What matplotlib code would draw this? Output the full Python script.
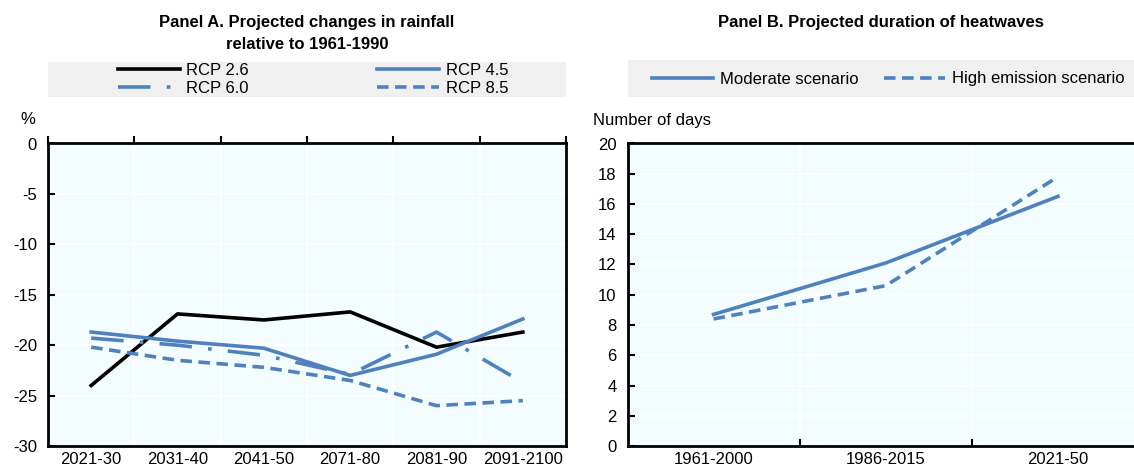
import matplotlib
matplotlib.use("Agg")
import matplotlib.pyplot as plt
from matplotlib.patches import Rectangle

plt.rcParams["font.family"] = ["Liberation Sans", "DejaVu Sans"]
plt.rcParams["axes.unicode_minus"] = False

# Panel A data
periods = ["2021-30", "2031-40", "2041-50", "2071-80", "2081-90", "2091-2100"]
rcp26 = [-24.0, -16.9, -17.5, -16.7, -20.2, -18.7]
rcp45 = [-18.7, -19.6, -20.3, -23.0, -20.9, -17.4]
rcp60 = [-19.3, -20.0, -21.0, -22.9, -18.7, -23.7]
rcp85 = [-20.2, -21.5, -22.2, -23.5, -26.0, -25.5]

# Panel B data
windows = ["1961-2000", "1986-2015", "2021-50"]
moderate = [8.7, 12.1, 16.5]
high = [8.4, 10.6, 17.8]

blue = "#4F81BD"
bg = "#F3FDFF"
legbg = "#F0F0F0"
fs = 12

fig = plt.figure(figsize=(11.34, 4.69), dpi=100)
W, H = 1134.0, 469.0

def box(l, r, t, b):
    return [l / W, 1 - b / H, (r - l) / W, (b - t) / H]

axA = fig.add_axes(box(48, 566, 143.5, 446))
axB = fig.add_axes(box(627.5, 1144, 143.5, 446))

for ax in (axA, axB):
    ax.set_facecolor(bg)
    for s in ax.spines.values():
        s.set_linewidth(2)
        s.set_color("black")
    ax.set_axisbelow(True)
    ax.grid(True, which="major", axis="y", color="white", lw=1.2)
    ax.grid(True, which="minor", axis="x", color="white", lw=1.2)
    ax.tick_params(axis="y", direction="in", length=5, width=1.5, labelsize=fs, pad=8)

# ---- Panel A
x = range(len(periods))
axA.plot(x, rcp26, color="black", lw=2.6, label="RCP 2.6")
axA.plot(x, rcp45, color=blue, lw=2.6, label="RCP 4.5")
axA.plot(x, rcp60, color=blue, lw=2.6, dashes=(9, 4.5, 1, 4.5), label="RCP 6.0")
axA.plot(x, rcp85, color=blue, lw=2.6, dashes=(3.2, 1.8), label="RCP 8.5")
axA.set_xlim(-0.5, len(periods) - 0.5)
axA.set_ylim(-30, 0)
axA.set_yticks(range(-30, 1, 5))
axA.set_xticks(list(x))
axA.set_xticklabels(periods, fontsize=fs)
axA.set_xticks([i - 0.5 for i in range(len(periods) + 1)], minor=True)
axA.tick_params(axis="x", which="major", length=0, pad=4)
axA.tick_params(axis="x", which="minor", top=True, bottom=False, direction="out",
                length=5, width=1.5)
fig.text(28 / W, 1 - 120 / H, "%", fontsize=fs, ha="center", va="center")
fig.text(307 / W, 1 - 33.5 / H, "Panel A. Projected changes in rainfall\nrelative to 1961-1990",
         fontsize=fs, fontweight="bold", ha="center", va="center", linespacing=1.6)

fig.patches.append(Rectangle((48 / W, 1 - 97 / H), 518 / W, 35 / H,
                             transform=fig.transFigure, facecolor=legbg, edgecolor="none"))
hA, lA = axA.get_legend_handles_labels()
order = [0, 2, 1, 3]
fig.legend([hA[i] for i in order], [lA[i] for i in order], ncol=2, frameon=False,
           loc="center", bbox_to_anchor=(313 / W, 1 - 79.5 / H), fontsize=fs,
           handlelength=3.7, handletextpad=0.4, columnspacing=7.7,
           labelspacing=0.15, borderpad=0)

# ---- Panel B
xb = range(len(windows))
axB.plot(xb, moderate, color=blue, lw=2.6, label="Moderate scenario")
axB.plot(xb, high, color=blue, lw=2.6, dashes=(3.2, 1.8), label="High emission scenario")
axB.set_xlim(-0.5, len(windows) - 0.5)
axB.set_ylim(0, 20)
axB.set_yticks(range(0, 21, 2))
axB.set_xticks(list(xb))
axB.set_xticklabels(windows, fontsize=fs)
axB.set_xticks([i + 0.5 for i in range(len(windows))], minor=True)
axB.tick_params(axis="x", which="major", length=0, pad=4)
axB.tick_params(axis="x", which="minor", direction="in", length=5, width=1.5)
axB.spines["right"].set_visible(False)
fig.text(593 / W, 1 - 120 / H, "Number of days", fontsize=fs, ha="left", va="center")
fig.text(881 / W, 1 - 23 / H, "Panel B. Projected duration of heatwaves",
         fontsize=fs, fontweight="bold", ha="center", va="center")

fig.patches.append(Rectangle((627.5 / W, 1 - 97 / H), (1134 - 627.5) / W, 37 / H,
                             transform=fig.transFigure, facecolor=legbg, edgecolor="none"))
hB, lB = axB.get_legend_handles_labels()
fig.legend(hB, lB, ncol=2, frameon=False, loc="center",
           bbox_to_anchor=(888 / W, 1 - 79 / H), fontsize=fs,
           handlelength=3.7, handletextpad=0.4, columnspacing=1.5, borderpad=0)

fig.savefig("out.png", dpi=100)
